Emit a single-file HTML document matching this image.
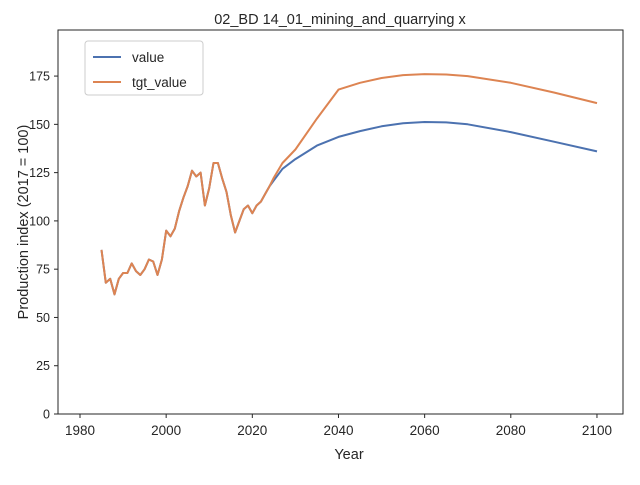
<!DOCTYPE html>
<html><head><meta charset="utf-8"><style>
body{margin:0;background:#fff;font-family:"Liberation Sans",sans-serif}
text{font-family:"Liberation Sans",sans-serif}
</style></head><body>
<svg id="chart" width="640" height="480">
<rect width="640" height="480" fill="#fff"/>
<text x="340" y="24" text-anchor="middle" font-size="14.5" fill="#262626">02_BD 14_01_mining_and_quarrying x</text>
<rect x="58" y="30" width="565" height="384" fill="none" stroke="#262626" stroke-width="1"/>
<g id="xt"></g>
<g id="yt"></g>
<text x="349" y="459" text-anchor="middle" font-size="14.5" fill="#262626">Year</text>
<text transform="translate(28,222) rotate(-90)" text-anchor="middle" font-size="14.5" fill="#262626">Production index (2017 = 100)</text>
<g id="lines"></g>
<g>
<rect x="85" y="41" width="118" height="54" rx="3" fill="#fff" stroke="#ccc"/>
<line x1="93" y1="57" x2="121" y2="57" stroke="#4c72b0" stroke-width="2"/>
<text x="132" y="62" font-size="13.5" fill="#262626">value</text>
<line x1="93" y1="82" x2="121" y2="82" stroke="#dd8452" stroke-width="2"/>
<text x="132" y="87" font-size="13.5" fill="#262626">tgt_value</text>
</g>
</svg>
<script>
const histYears=[1985,1986,1987,1988,1989,1990,1991,1992,1993,1994,1995,1996,1997,1998,1999,2000,2001,2002,2003,2004,2005,2006,2007,2008,2009,2010,2011,2012,2013,2014,2015,2016,2017,2018,2019,2020,2021,2022,2023,2024];
const histValues=[85,68,70,62,70,73,73,78,74,72,75,80,79,72,80,95,92,96,105,112,118,126,123,125,108,117,130,130,122,115,103,94,100,106,108,104,108,110,114,118];
const projYears=[2025,2027,2030,2035,2040,2045,2050,2055,2060,2065,2070,2080,2090,2100];
const valueProj=[121,127,132,139,143.5,146.5,149,150.6,151.2,151,150,146,141,136];
const tgtProj=[122.5,130,137,153,168,171.5,174,175.5,176,175.8,175,171.5,166.5,161];
const xTicks=[1980,2000,2020,2040,2060,2080,2100];
const yTicks=[0,25,50,75,100,125,150,175];
const X=y=>80+(y-1980)*4.308, Y=v=>414-v*1.931;
const ns="http://www.w3.org/2000/svg";
const xt=document.getElementById('xt'), yt=document.getElementById('yt'), lg=document.getElementById('lines');
xTicks.forEach(t=>{
 const l=document.createElementNS(ns,'line');l.setAttribute('x1',X(t));l.setAttribute('x2',X(t));l.setAttribute('y1',414);l.setAttribute('y2',418);l.setAttribute('stroke','#262626');
 
 
 xt.appendChild(l);
 const tx=document.createElementNS(ns,'text');tx.setAttribute('x',X(t));tx.setAttribute('y',435);tx.setAttribute('text-anchor','middle');tx.setAttribute('font-size','13.5');tx.setAttribute('fill','#262626');tx.textContent=t;
 
 
 xt.appendChild(tx);
});
yTicks.forEach(t=>{
 const l=document.createElementNS(ns,'line');l.setAttribute('x1',54);l.setAttribute('x2',58);l.setAttribute('y1',Y(t));l.setAttribute('y2',Y(t));l.setAttribute('stroke','#262626');
 
 
 yt.appendChild(l);
 const tx=document.createElementNS(ns,'text');tx.setAttribute('x',50);tx.setAttribute('y',Y(t)+4.5);tx.setAttribute('text-anchor','end');tx.setAttribute('font-size','12.5');tx.setAttribute('fill','#262626');tx.textContent=t;
 
 
 yt.appendChild(tx);
});
function draw(proj,color,name){
 const yrs=histYears.concat(projYears), vals=histValues.concat(proj);
 const p=document.createElementNS(ns,'path');
 p.setAttribute('d',yrs.map((y,i)=>(i?'L':'M')+X(y).toFixed(1)+','+Y(vals[i]).toFixed(1)).join(''));
 p.setAttribute('fill','none');p.setAttribute('stroke',color);p.setAttribute('stroke-width','2');p.setAttribute('stroke-linejoin','round');
 
 
 lg.appendChild(p);
}
draw(valueProj,'#4c72b0','value-line');
draw(tgtProj,'#dd8452','tgt-value-line');
</script>
</body></html>
